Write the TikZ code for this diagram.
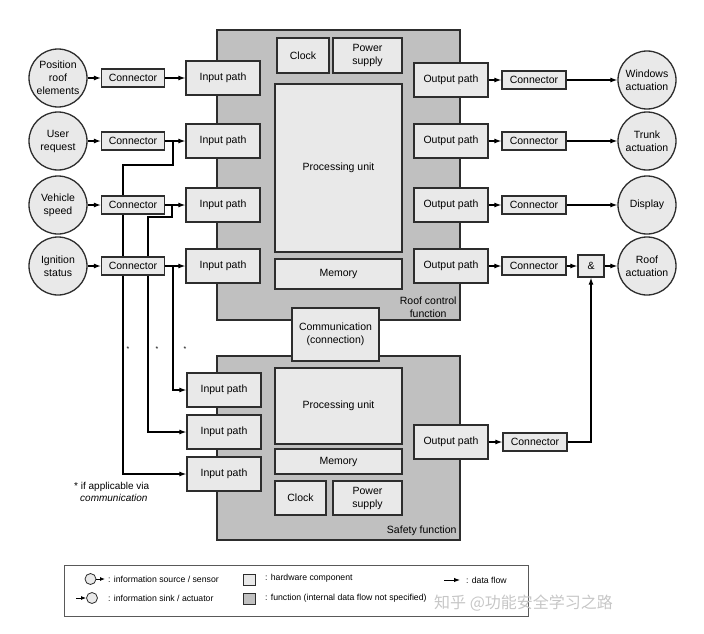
\documentclass[tikz,border=0pt]{standalone}
\usepackage{fontspec}
\setmainfont{Liberation Sans}
\newfontfamily\cjk{Noto Sans CJK SC}
\usetikzlibrary{arrows.meta}
\definecolor{fngray}{RGB}{192,192,192}
\definecolor{hwgray}{RGB}{233,233,233}
\definecolor{edge}{RGB}{45,45,45}
\tikzset{
  box/.style={draw=edge, line width=1.3pt, inner sep=0pt, align=center, font=\fontsize{10.5}{13}\selectfont},
  hw/.style={box, fill=hwgray},
  fn/.style={box, fill=fngray},
  info/.style={hw, circle, minimum size=58pt},
  conn/.style={hw, minimum width=63pt, minimum height=18pt},
  path box/.style={hw, minimum width=74pt, minimum height=34pt},
  flow/.style={-{Latex[length=7pt,width=5pt]}, line width=1.1pt},
  legend text/.style={anchor=west, inner sep=0pt, font=\fontsize{8.7}{10}\selectfont},
}

\begin{document}
\begin{tikzpicture}[x=1pt, y=-1pt]
	\useasboundingbox (0,0) rectangle (704,634);

	% the two functions
	\node[fn, minimum width=243pt, minimum height=290pt] (roof) at (338.5,175) {};
	\node[fn, minimum width=243pt, minimum height=184pt] (safety) at (338.5,448) {};
	\node[anchor=south east, align=center, inner sep=0pt, font=\fontsize{10.5}{13}\selectfont] (rooflbl)
		at ([xshift=-4pt, yshift=3pt]roof.south east) {Roof control\\function};
	\node[anchor=south east, inner sep=0pt, font=\fontsize{10.5}{13}\selectfont] (safetylbl)
		at ([xshift=-4pt, yshift=5pt]safety.south east) {Safety function};
	\node[hw, minimum width=87pt, minimum height=53pt] (comm) at (335.5,334.5) {Communication\\(connection)};

	% roof control function
	\node[hw, minimum width=52pt, minimum height=35pt] (clock1) at (303,55.5) {Clock};
	\node[hw, minimum width=69pt, minimum height=35pt] (power1) at (367.5,55.5) {Power\\supply};
	\node[hw, minimum width=127pt, minimum height=168pt] (cpu1) at (338.5,168) {Processing unit};
	\node[hw, minimum width=127pt, minimum height=30pt] (mem1) at (338.5,274) {Memory};
	\node[path box] (in1) at (223,78) {Input path};
	\node[path box] (in2) at (223,141) {Input path};
	\node[path box] (in3) at (223,205) {Input path};
	\node[path box] (in4) at (223,266) {Input path};
	\node[path box] (out1) at (451,80) {Output path};
	\node[path box] (out2) at (451,141) {Output path};
	\node[path box] (out3) at (451,205) {Output path};
	\node[path box] (out4) at (451,266) {Output path};

	% safety function
	\node[hw, minimum width=127pt, minimum height=76pt] (cpu2) at (338.5,406) {Processing unit};
	\node[hw, minimum width=127pt, minimum height=25pt] (mem2) at (338.5,461.5) {Memory};
	\node[hw, minimum width=51pt, minimum height=34pt] (clock2) at (300.5,498) {Clock};
	\node[hw, minimum width=69pt, minimum height=34pt] (power2) at (367.5,498) {Power\\supply};
	\node[path box] (sin1) at (224,390) {Input path};
	\node[path box] (sin2) at (224,432) {Input path};
	\node[path box] (sin3) at (224,474) {Input path};
	\node[path box] (sout) at (451,442) {Output path};

	% branches to the safety function (drawn below the connectors)
	\coordinate (j2) at (173,141);
	\coordinate (j3) at (172,205);
	\coordinate (j4) at (173,266);
	\draw[flow] (j2) |- (123,165) |- (sin3.west);
	\draw[flow] (j3) |- (148,217) |- (sin2.west);
	\draw[flow] (j4) |- (sin1.west);
	\node[inner sep=0pt, font=\fontsize{7}{7}\selectfont] (ast1) at (128,349) {*};
	\node[inner sep=0pt, font=\fontsize{7}{7}\selectfont] (ast2) at (157,349) {*};
	\node[inner sep=0pt, font=\fontsize{7}{7}\selectfont] (ast3) at (185,349) {*};

	% sources
	\node[info] (src1) at (58,78) {Position\\roof\\elements};
	\node[info] (src2) at (58,141) {User\\request};
	\node[info] (src3) at (58,205) {Vehicle\\speed};
	\node[info] (src4) at (58,266) {Ignition\\status};
	\node[conn] (cl1) at (133,78) {Connector};
	\node[conn] (cl2) at (133,141) {Connector};
	\node[conn] (cl3) at (133,205) {Connector};
	\node[conn] (cl4) at (133,266) {Connector};
	\draw[flow] (src1) -- (cl1);
	\draw[flow] (src2) -- (cl2);
	\draw[flow] (src3) -- (cl3);
	\draw[flow] (src4) -- (cl4);
	\draw[flow] (cl1) -- (in1);
	\draw[flow] (cl2) -- (in2);
	\draw[flow] (cl3) -- (in3);
	\draw[flow] (cl4) -- (in4);

	% sinks
	\node[conn, minimum width=64pt] (cr1) at (534,80) {Connector};
	\node[conn, minimum width=64pt] (cr2) at (534,141) {Connector};
	\node[conn, minimum width=64pt] (cr3) at (534,205) {Connector};
	\node[conn, minimum width=64pt] (cr4) at (534,266) {Connector};
	\node[conn, minimum width=64pt] (cr5) at (535,442) {Connector};
	\node[hw, minimum width=26pt, minimum height=22pt] (and) at (591,266) {\&};
	\node[info] (snk1) at (647,80) {Windows\\actuation};
	\node[info] (snk2) at (647,141) {Trunk\\actuation};
	\node[info] (snk3) at (647,205) {Display};
	\node[info] (snk4) at (647,266) {Roof\\actuation};
	\draw[flow] (out1) -- (cr1);
	\draw[flow] (out2) -- (cr2);
	\draw[flow] (out3) -- (cr3);
	\draw[flow] (out4) -- (cr4);
	\draw[flow] (sout) -- (cr5);
	\draw[flow] (cr1) -- (snk1);
	\draw[flow] (cr2) -- (snk2);
	\draw[flow] (cr3) -- (snk3);
	\draw[flow] (cr4) -- (and);
	\draw[flow] (and) -- (snk4);
	\draw[flow] (cr5.east) -| (and.south);

	\node[anchor=north west, align=left, inner sep=0pt, font=\fontsize{10}{12}\selectfont] (note)
		at (74,482) {* if applicable via\\\hspace*{6pt}\textit{communication}};

	% legend
	\node[draw=gray!70!black, line width=0.8pt, minimum width=464pt, minimum height=51pt] (legend) at (296,590.5) {};
	\node[hw, circle, line width=0.8pt, minimum size=11pt] (lsrc) at (90.5,579) {};
	\coordinate (lsrcend) at (105,579);
	\draw[-{Latex[length=5pt,width=4pt]}, line width=0.9pt] (lsrc) -- (lsrcend);
	\node[hw, circle, line width=0.8pt, minimum size=11pt] (lsnk) at (92,598) {};
	\coordinate (lsnkbeg) at (76,598);
	\draw[-{Latex[length=5pt,width=4pt]}, line width=0.9pt] (lsnkbeg) -- (lsnk);
	\node[hw, line width=0.8pt, minimum width=12pt, minimum height=11pt] (lhw) at (249,580) {};
	\node[fn, line width=0.8pt, minimum width=12pt, minimum height=11pt] (lfn) at (249,599) {};
	\coordinate (lflowbeg) at (444,580);
	\coordinate (lflowend) at (460,580);
	\draw[-{Latex[length=6pt,width=4.5pt]}, line width=1pt] (lflowbeg) -- (lflowend);
	\node[legend text] (tsrc) at (108,579) {: information source / sensor};
	\node[legend text] (tsnk) at (108,598) {: information sink / actuator};
	\node[legend text] (thw) at (265,578) {: hardware component};
	\node[legend text] (tfn) at (265,598) {: function (internal data flow not specified)};
	\node[legend text] (tflow) at (466,580) {: data flow};
	\node[anchor=west, inner sep=0pt, text=gray!45, font=\cjk\fontsize{16}{16}\selectfont] (mark) at (434,603) {知乎 @功能安全学习之路};
\end{tikzpicture}
\end{document}
